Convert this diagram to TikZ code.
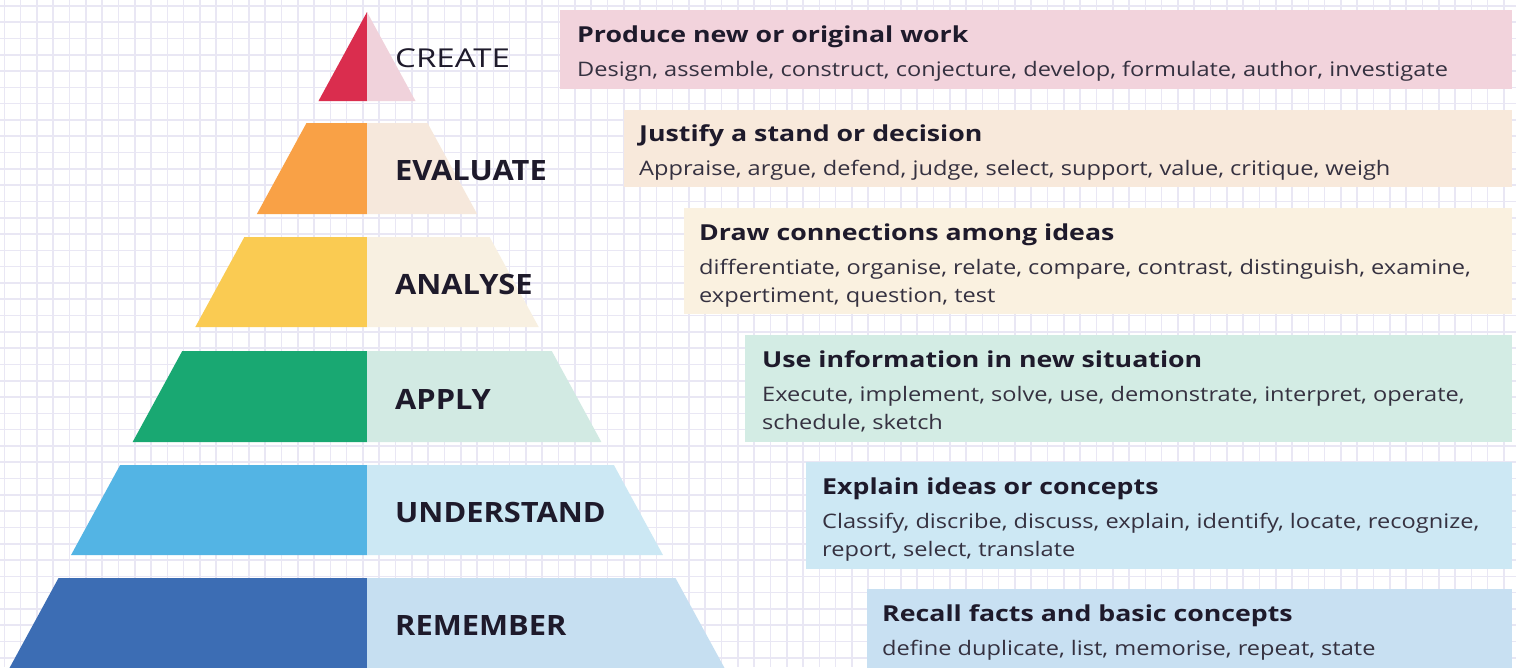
\documentclass[tikz,border=0pt]{standalone}
\usepackage{fontspec}
\setmainfont{Open Sans}
\newfontfamily\dscfont[FakeStretch=1.18]{Open Sans}
\newfontfamily\ttlfont[FakeStretch=1.215]{Open Sans}
\newfontfamily\lvlfont[FakeStretch=1.10]{Open Sans}
\newfontfamily\lvlregfont[FakeStretch=1.27]{Open Sans}
\definecolor{gridc}{HTML}{E9E7F4}
\definecolor{txt}{HTML}{1E1A2B}
\definecolor{crD}{HTML}{DA2D4E}\definecolor{crL}{HTML}{F0D2DB}
\definecolor{evD}{HTML}{F9A146}\definecolor{evL}{HTML}{F6E8DC}
\definecolor{anD}{HTML}{FACB52}\definecolor{anL}{HTML}{F8F0E1}
\definecolor{apD}{HTML}{19A872}\definecolor{apL}{HTML}{D2EAE3}
\definecolor{unD}{HTML}{53B4E4}\definecolor{unL}{HTML}{CCE8F4}
\definecolor{reD}{HTML}{3C6DB4}\definecolor{reL}{HTML}{C6DFF1}
\definecolor{bx1}{HTML}{F2D3DC}
\definecolor{bx2}{HTML}{F8E9DB}
\definecolor{bx3}{HTML}{FAF1E0}
\definecolor{bx4}{HTML}{D3ECE4}
\definecolor{bx5}{HTML}{CDE8F4}
\definecolor{bx6}{HTML}{C8E0F2}
\tikzset{
  lvl/.style={anchor=base west,inner sep=0pt,text=txt,font=\lvlfont\fontsize{28}{30}\selectfont\bfseries},
  lvlreg/.style={anchor=base west,inner sep=0pt,text=txt,font=\lvlregfont\fontsize{26}{30}\selectfont},
  ttl/.style={anchor=base west,inner sep=0pt,text=txt,font=\ttlfont\fontsize{22}{26}\selectfont\bfseries},
  dsc/.style={anchor=base west,inner sep=0pt,text=txt!90,font=\dscfont\fontsize{20}{24}\selectfont},
}
\begin{document}
\begin{tikzpicture}[x=1pt,y=-1pt]
\useasboundingbox (0,0) rectangle (1516,667);
\fill[white] (0,0) rectangle (1516,667);
% grid
\begin{scope}
\clip (0,0) rectangle (1516,667);
\foreach \i in {0,...,93} {
  \draw[gridc,line width=1.6pt] (4.3+16.3*\i,0) -- (4.3+16.3*\i,667);
}
\foreach \j in {0,...,41} {
  \draw[gridc,line width=1.6pt] (0,5.8+16.3*\j) -- (1516,5.8+16.3*\j);
}
\end{scope}
% pyramid bands: x = 367 -/+ 0.545*(y-12)
\def\apx{367}
\def\sl{0.545}
% CREATE
\fill[crD] (\apx,12) -- (\apx-\sl*89,101) -- (\apx,101) -- cycle;
\fill[crL] (\apx,12) -- (\apx+\sl*89,101) -- (\apx,101) -- cycle;
% trapezoids
\foreach \t/\b/\cd/\cl in {123/214/evD/evL, 237/327/anD/anL, 351/442/apD/apL, 465/555/unD/unL, 578/668/reD/reL} {
  \fill[\cd] (\apx-\sl*\t+\sl*12,\t) -- (\apx,\t) -- (\apx,\b) -- (\apx-\sl*\b+\sl*12,\b) -- cycle;
  \fill[\cl] (\apx,\t) -- (\apx+\sl*\t-\sl*12,\t) -- (\apx+\sl*\b-\sl*12,\b) -- (\apx,\b) -- cycle;
}
% level labels
\node[lvlreg] (lcreate) at (395,67) {CREATE};
\node[lvl] (levaluate) at (395,180) {EVALUATE};
\node[lvl] (lanalyse) at (395,294) {ANALYSE};
\node[lvl] (lapply) at (395,409) {APPLY};
\node[lvl] (lunderstand) at (395,522) {UNDERSTAND};
\node[lvl] (lremember) at (395,635) {REMEMBER};
% boxes
\fill[bx1] (560,10) rectangle (1512,89);
\fill[bx2] (624,110) rectangle (1512,187);
\fill[bx3] (684,208) rectangle (1512,314);
\fill[bx4] (745,335) rectangle (1512,442);
\fill[bx5] (806,462) rectangle (1512,569);
\fill[bx6] (867,589) rectangle (1512,668);
% box texts
\node[ttl] (t1) at (577,42) {Produce new or original work};
\node[dsc] (d1) at (577,76) {Design, assemble, construct, conjecture, develop, formulate, author, investigate};
\node[ttl] (t2) at (639,141) {Justify a stand or decision};
\node[dsc] (d2) at (639,175) {Appraise, argue, defend, judge, select, support, value, critique, weigh};
\node[ttl] (t3) at (699,240) {Draw connections among ideas};
\node[dsc] (d3a) at (699,274) {differentiate, organise, relate, compare, contrast, distinguish, examine,};
\node[dsc] (d3b) at (699,302) {expertiment, question, test};
\node[ttl] (t4) at (762,367) {Use information in new situation};
\node[dsc] (d4a) at (762,401) {Execute, implement, solve, use, demonstrate, interpret, operate,};
\node[dsc] (d4b) at (762,429) {schedule, sketch};
\node[ttl] (t5) at (822,494) {Explain ideas or concepts};
\node[dsc] (d5a) at (822,528) {Classify, discribe, discuss, explain, identify, locate, recognize,};
\node[dsc] (d5b) at (822,556) {report, select, translate};
\node[ttl] (t6) at (882,621) {Recall facts and basic concepts};
\node[dsc] (d6) at (882,655) {define duplicate, list, memorise, repeat, state};
\end{tikzpicture}
\end{document}
